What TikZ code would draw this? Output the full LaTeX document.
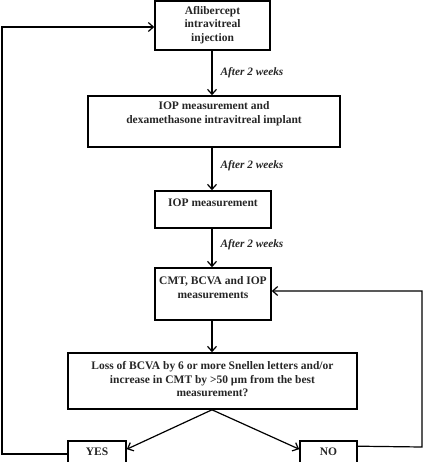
\documentclass[tikz,border=0pt]{standalone}
\usepackage{fontspec}
\setmainfont{Liberation Serif}
\usetikzlibrary{arrows.meta}
\begin{document}
\begin{tikzpicture}[x=1pt,y=-1pt,
  box/.style={draw, line width=1.6pt, inner sep=0pt},
  txt/.style={font=\bfseries\fontsize{11.5}{13.5}\selectfont, align=center, text=black!85, inner sep=0pt},
  lbl/.style={font=\bfseries\itshape\fontsize{11.3}{12}\selectfont, anchor=west, text=black!85, inner sep=0pt},
  arr/.style={-{Straight Barb[length=5pt,width=9pt]}, line width=1.2pt}]
\useasboundingbox (0,0) rectangle (424,462);
% boxes
\node[box, minimum width=115pt, minimum height=49pt] (b1) at (212.5,25.5) {};
\node[box, minimum width=252pt, minimum height=51pt] (b2) at (214,121.5) {};
\node[box, minimum width=116pt, minimum height=37pt] (b3) at (213,209.5) {};
\node[box, minimum width=116pt, minimum height=52pt] (b4) at (213,294) {};
\node[box, minimum width=289pt, minimum height=56pt] (b5) at (212.5,381) {};
\node[box, minimum width=58pt, minimum height=26pt] (yes) at (97,454) {};
\node[box, minimum width=57pt, minimum height=26pt] (no) at (328.5,454) {};
% texts
\node[txt] (t1) at (212.5,25) {Aflibercept\\intravitreal\\injection};
\node[txt] (t2) at (214,113.5) {IOP measurement and\\dexamethasone intravitreal implant};
\node[txt] (t3) at (213,203) {IOP measurement};
\node[txt] (t4) at (213,287.5) {CMT, BCVA and IOP\\measurements};
\node[txt] (t5) at (212.5,379.5) {Loss of BCVA by 6 or more Snellen letters and/or\\increase in CMT by >50 µm from the best\\measurement?};
\node[txt] (ty) at (97,452) {YES};
\node[txt] (tn) at (328.5,452) {NO};
% connectors
\draw[arr] (b1.south -| 212,0) -- (b2.north -| 212,0) node[lbl, midway, xshift=8pt] (l1) {After 2 weeks};
\draw[arr] (b2.south -| 212,0) -- (b3.north -| 212,0) node[lbl, midway, xshift=8pt, yshift=3pt] (l2) {After 2 weeks};
\draw[arr] (b3.south -| 212,0) -- (b4.north -| 212,0) node[lbl, midway, xshift=8pt, yshift=3pt] (l3) {After 2 weeks};
\draw[arr] (b4.south -| 212,0) -- (b5.north -| 212,0);
\coordinate (d0) at (b5.south -| 212,0);
\draw[arr] (d0) -- ([yshift=-9pt]yes.north east);
\draw[arr] (d0) -- ([yshift=-9pt]no.north west);
\coordinate (L1) at (2,454);
\coordinate (L2) at (2,27);
\draw[arr] (yes.west) -- (L1) -- (L2) -- (b1.west |- L2);
\coordinate (R1) at (422,447);
\coordinate (R2) at (422,291);
\draw[arr] ([yshift=-6pt]no.north east) -- (R1) -- (R2) -- (b4.east |- R2);
\end{tikzpicture}
\end{document}
